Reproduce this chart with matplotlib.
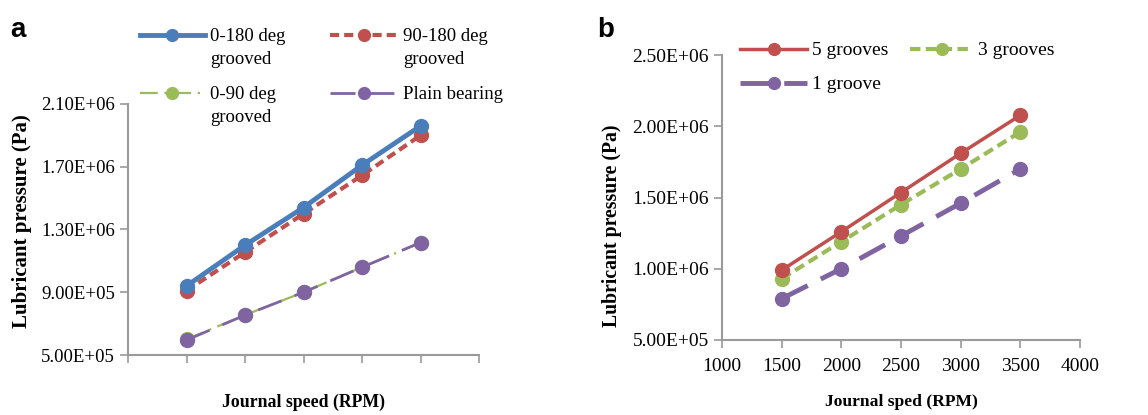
import matplotlib
matplotlib.use("Agg")
import matplotlib.pyplot as plt
from matplotlib.lines import Line2D

# ---------------- data ----------------
speed = [1500, 2000, 2500, 3000, 3500]

a_labels = ["0-180 deg\ngrooved", "90-180 deg\ngrooved", "0-90 deg\ngrooved", "Plain bearing"]
a_0_180 = [9.4e5, 1.20e6, 1.44e6, 1.71e6, 1.96e6]
a_90_180 = [9.1e5, 1.155e6, 1.40e6, 1.645e6, 1.90e6]
a_0_90 = [6.0e5, 7.55e5, 9.0e5, 1.06e6, 1.215e6]
a_plain = [5.95e5, 7.54e5, 9.0e5, 1.059e6, 1.217e6]

b_labels = ["5 grooves", "3 grooves", "1 groove"]
b_5 = [0.99e6, 1.26e6, 1.535e6, 1.81e6, 2.077e6]
b_3 = [0.93e6, 1.19e6, 1.45e6, 1.70e6, 1.96e6]
b_1 = [0.79e6, 1.00e6, 1.23e6, 1.46e6, 1.70e6]

a_yticks = [5.0e5, 9.0e5, 1.3e6, 1.7e6, 2.1e6]
a_yticklabels = ["5.00E+05", "9.00E+05", "1.30E+06", "1.70E+06", "2.10E+06"]
b_yticks = [5.0e5, 1.0e6, 1.5e6, 2.0e6, 2.5e6]
b_yticklabels = ["5.00E+05", "1.00E+06", "1.50E+06", "2.00E+06", "2.50E+06"]
xticks = [1000, 1500, 2000, 2500, 3000, 3500, 4000]

# ---------------- style ----------------
BLUE = "#4a7ebb"
RED = "#c0504d"
GREEN = "#9bbb59"
PURPLE = "#8064a2"
SPINE = "#9a9a9a"
SERIF = "Liberation Serif"

fig = plt.figure(figsize=(11.48, 4.15), dpi=100)
W, H = 1148, 415


def fx(px):
    return px / W


def fy(py):
    return 1 - py / H


def ax_rect(l, r, t, b):
    return [l / W, 1 - b / H, (r - l) / W, (b - t) / H]


def style_axes(ax, fs):
    for s in ["top", "right"]:
        ax.spines[s].set_visible(False)
    for s in ["left", "bottom"]:
        ax.spines[s].set_color(SPINE)
        ax.spines[s].set_linewidth(1.5)
    ax.tick_params(axis="both", colors=SPINE, length=6, width=1.2, direction="out")
    ax.tick_params(axis="x", pad=7)
    for lab in ax.get_xticklabels() + ax.get_yticklabels():
        lab.set_fontfamily(SERIF)
        lab.set_fontsize(fs)
        lab.set_color("black")


def legend_entry(x0, x1, y, color, lw, ls, label, ms=8.5, fs=13.5):
    ln = Line2D([fx(x0), fx(x1)], [fy(y), fy(y)], transform=fig.transFigure,
                color=color, lw=lw, ls=ls)
    mk = Line2D([fx((x0 + x1) / 2)], [fy(y)], transform=fig.transFigure,
                color=color, marker="o", ms=ms, ls="none")
    fig.add_artist(ln)
    fig.add_artist(mk)
    fig.text(fx(x1 + 5), fy(y - 7), label, fontfamily=SERIF, fontsize=fs,
             va="top", ha="left", linespacing=1.45, transform=fig.transFigure)


ms = 10
# ---------------- panel a ----------------
axa = fig.add_axes(ax_rect(128, 479, 104, 355))
LS_A = {"blue": "-", "red": (0, (2.2, 1.2)), "green": (0, (8, 3, 1, 3)), "purple": (0, (9, 5))}
LW_A = {"blue": 3.5, "red": 3.0, "green": 1.6, "purple": 2.0}
axa.plot(speed, a_0_90, color=GREEN, lw=LW_A["green"], ls=LS_A["green"], marker="o", ms=ms, zorder=2)
axa.plot(speed, a_plain, color=PURPLE, lw=LW_A["purple"], ls=LS_A["purple"], marker="o", ms=ms, zorder=3)
axa.plot(speed, a_90_180, color=RED, lw=LW_A["red"], ls=LS_A["red"], marker="o", ms=ms, zorder=4)
axa.plot(speed, a_0_180, color=BLUE, lw=LW_A["blue"], ls=LS_A["blue"], marker="o", ms=ms, zorder=5)
axa.set_xlim(1000, 4000)
axa.set_ylim(5.0e5, 2.1e6)
axa.set_xticks(xticks)
axa.set_xticklabels([""] * len(xticks))
axa.set_yticks(a_yticks)
axa.set_yticklabels(a_yticklabels)
style_axes(axa, 13.5)
axa.set_xlabel("Journal speed (RPM)", fontfamily=SERIF, fontsize=12.8, fontweight="bold",
               va="center")
axa.xaxis.set_label_coords(0.5, -(402 - 355) / (355 - 104))
axa.set_ylabel("Lubricant pressure (Pa)", fontfamily=SERIF, fontsize=15, fontweight="bold",
               va="center")
axa.yaxis.set_label_coords(-(128 - 22) / (479 - 128), (355 - 221) / (355 - 104))

legend_entry(140, 205, 35, BLUE, LW_A["blue"], LS_A["blue"], a_labels[0])
legend_entry(330, 398, 35, RED, LW_A["red"], LS_A["red"], a_labels[1])
legend_entry(140, 205, 93, GREEN, LW_A["green"], LS_A["green"], a_labels[2])
legend_entry(330, 398, 93, PURPLE, LW_A["purple"], LS_A["purple"], a_labels[3])

# ---------------- panel b ----------------
axb = fig.add_axes(ax_rect(722, 1080, 55, 340))
LS_B = {"red": "-", "green": (0, (2.5, 1.3)), "purple": (0, (6, 3))}
LW_B = {"red": 2.5, "green": 3.0, "purple": 3.5}
axb.plot(speed, b_1, color=PURPLE, lw=LW_B["purple"], ls=LS_B["purple"], marker="o", ms=ms, zorder=2)
axb.plot(speed, b_3, color=GREEN, lw=LW_B["green"], ls=LS_B["green"], marker="o", ms=ms, zorder=3)
axb.plot(speed, b_5, color=RED, lw=LW_B["red"], ls=LS_B["red"], marker="o", ms=ms, zorder=4)
axb.set_xlim(1000, 4000)
axb.set_ylim(5.0e5, 2.5e6)
axb.set_xticks(xticks)
axb.set_xticklabels([str(x) for x in xticks])
axb.set_yticks(b_yticks)
axb.set_yticklabels(b_yticklabels)
style_axes(axb, 14)
axb.set_xlabel("Journal sped (RPM)", fontfamily=SERIF, fontsize=12.6, fontweight="bold",
               va="center")
axb.xaxis.set_label_coords(0.5, -(402 - 340) / (340 - 55))
axb.set_ylabel("Lubricant pressure (Pa)", fontfamily=SERIF, fontsize=14.2, fontweight="bold",
               va="center")
axb.yaxis.set_label_coords(-(722 - 612) / (1080 - 722), (340 - 226) / (340 - 55))

legend_entry(740, 807, 49, RED, LW_B["red"], LS_B["red"], b_labels[0], fs=14)
legend_entry(910, 973, 49, GREEN, LW_B["green"], LS_B["green"], b_labels[1], fs=14)
legend_entry(740, 807, 83, PURPLE, LW_B["purple"], LS_B["purple"], b_labels[2], fs=14)

# panel letters
fig.text(fx(10), fy(37), "a", fontfamily="Liberation Sans", fontsize=20, fontweight="bold")
fig.text(fx(597), fy(37), "b", fontfamily="Liberation Sans", fontsize=20, fontweight="bold")

fig.savefig("out.png", dpi=100)
